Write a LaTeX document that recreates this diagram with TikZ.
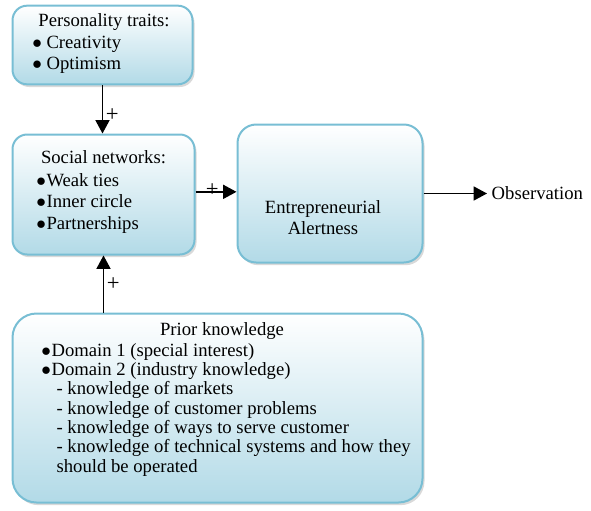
\documentclass[tikz,border=0pt]{standalone}
\usepackage{fontspec}
\setmainfont{Liberation Serif}
\usetikzlibrary{arrows.meta,shadows}
\definecolor{boxedge}{RGB}{120,190,212}
\definecolor{boxfill}{RGB}{178,218,231}
\newcommand{\blt}{$\bullet$}

\begin{document}
\begin{tikzpicture}[x=0.75pt,y=-0.75pt,>={Triangle[length=10pt,width=10.5pt]},font=\fontsize{14}{16}\selectfont]
\tikzstyle{box}=[draw=boxedge,line width=1.5pt,rounded corners=11pt,top color=white,middle color=boxfill!45,bottom color=boxfill,drop shadow={shadow xshift=1.5pt,shadow yshift=-2pt,opacity=0.3}]
\tikzstyle{txt}=[inner sep=0pt,align=left]
\tikzstyle{conn}=[->,line width=1.1pt]
\tikzstyle{plus}=[font=\fontsize{17}{17}\selectfont,inner sep=1pt]
\useasboundingbox (0,0) rectangle (591,510);
% boxes
\node[box,minimum width=135pt,minimum height=59pt] (pers) at (102.5,45) {};
\node[box,minimum width=136.5pt,minimum height=90pt] (social) at (103.5,194.5) {};
\node[box,minimum width=138.75pt,minimum height=103.5pt,rounded corners=14pt] (alert) at (330,193.5) {};
\node[box,minimum width=307.5pt,minimum height=141.75pt,rounded corners=18pt] (prior) at (217.5,408) {};
% texts
\node[txt,anchor=base] (persT) at (104,27) {Personality traits:};
\node[txt,anchor=north west,font=\fontsize{14}{15.75}\selectfont] (persL) at (32,36) {\blt\ Creativity\\\blt\ Optimism};
\node[txt,anchor=base] (socT) at (103.5,163) {Social networks:};
\node[txt,anchor=north west,font=\fontsize{14}{16.1}\selectfont] (socL) at (36,173) {\blt\kern0.5pt Weak ties\\\blt\kern0.5pt Inner circle\\\blt\kern0.5pt Partnerships};
\node[txt,anchor=north,align=center,font=\fontsize{14}{15.75}\selectfont] (alertT) at (323,200) {Entrepreneurial\\Alertness};
\node[anchor=base west] (obs) at (487,199) {Observation};
\node[txt,anchor=base] (priorT) at (222,335) {Prior knowledge};
\node[txt,anchor=north west,font=\fontsize{14}{14.5}\selectfont] (priorL) at (41,343) {\blt\kern0.5pt Domain 1 (special interest)\\\blt\kern0.5pt Domain 2 (industry knowledge)\\
\hspace*{11.5pt}- knowledge of markets\\\hspace*{11.5pt}- knowledge of customer problems\\\hspace*{11.5pt}- knowledge of ways to serve customer\\
\hspace*{11.5pt}- knowledge of technical systems and how they\\\hspace*{11.5pt}should be operated};
% connectors
\draw[conn] (pers.south) -- (pers.south |- social.north) node[plus,pos=0.62,right,xshift=1pt] (plus1) {+};
\draw[conn] ([yshift=2pt]social.east) -- ([yshift=2pt]social.east -| alert.west) node[plus,pos=0.41,yshift=1.5pt] (plus2) {+};
\draw[conn] (alert.east) -- (alert.east -| obs.west);
\draw[conn] (social.south |- prior.north) -- (social.south) node[plus,pos=0.5,right,xshift=1pt] (plus3) {+};
\end{tikzpicture}
\end{document}
